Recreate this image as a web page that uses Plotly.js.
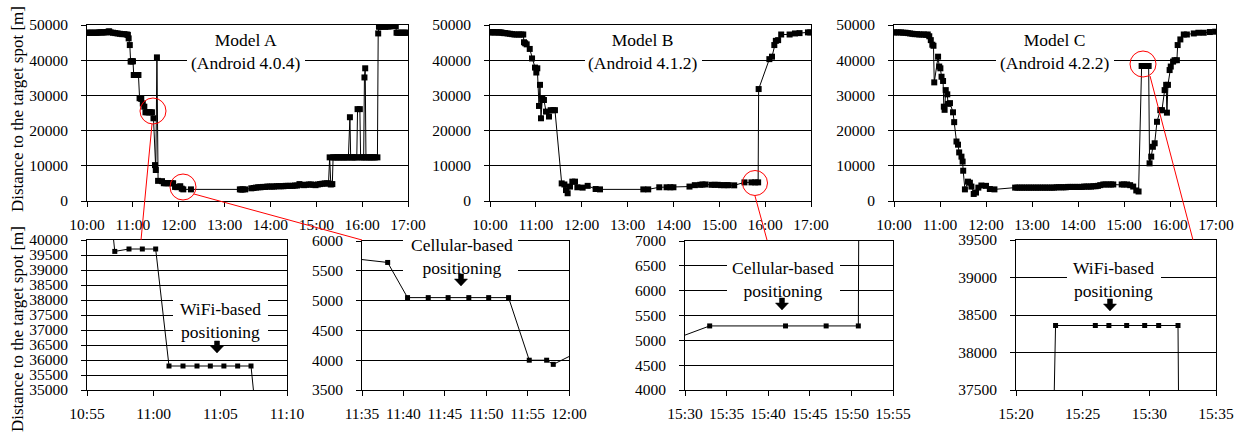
<!DOCTYPE html>
<html><head><meta charset="utf-8">
<script src="https://cdn.plot.ly/plotly-3.0.1.min.js"></script>
<style>html,body{margin:0;padding:0;background:#fff}#chart{width:1243px;height:432px}</style>
</head><body><div id="chart"></div>
<script>
// ---------------- DATA ----------------
const modelA_time = [
 "10:00","10:02","10:04","10:06","10:08","10:10","10:12","10:14","10:16","10:18",
 "10:20","10:22","10:24","10:26","10:28","10:29","10:31","10:34","10:37","10:40",
 "10:43","10:46","10:49","10:52","10:53:30","10:54:30","10:56","10:57:05","10:58:09","10:59:09",
 "11:00:09","11:01:09","11:02:12","11:03:15","11:04:15","11:05:16","11:06:18","11:07:18","11:08:48","11:11",
 "11:13","11:15","11:16:30","11:19","11:21","11:23","11:25","11:27","11:29","11:30",
 "11:31:30","11:33","11:38:06","11:40:30","11:43:00","11:45:24","11:47:54","11:50:18","11:52:42","11:55:12",
 "11:57:18","11:58:06","12:02","12:04","12:06","12:16","13:20","13:22","13:24","13:27",
 "13:35","13:38","13:41","13:44","13:47","13:50","13:53","13:56","13:59","14:02",
 "14:05","14:08","14:11","14:14","14:17","14:20","14:23","14:26","14:29","14:32",
 "14:35","14:38","14:41","14:44","14:47","14:50","14:53","14:56","14:59","15:02",
 "15:05","15:08","15:11","15:14","15:16","15:17:30","15:19","15:21","15:22","15:24",
 "15:26","15:28","15:30","15:32","15:34","15:36","15:38","15:40","15:42","15:44",
 "15:45","15:47","15:49","15:51","15:53","15:54","15:57","15:58","16:00","16:02",
 "16:03","16:04","16:05","16:07","16:09","16:11","16:13","16:15","16:17","16:20",
 "16:21","16:22","16:24","16:26","16:28","16:30","16:32","16:34","16:36","16:38",
 "16:40","16:42","16:44","16:45","16:47","16:49","16:51","16:53","16:55","16:57",
 "16:59"];
const modelA_dist = [
 47800,47800,47800,47800,47800,47800,47800,47800,47900,47900,
 47900,47900,47900,48000,48100,48200,47900,47800,47700,47600,
 47500,47400,47400,47300,47200,46200,44300,39620,39700,39700,
 39700,35800,35800,35800,35800,35800,35800,35800,29200,29000,
 27700,26800,25200,25200,25200,25200,25200,23500,10200,8800,
 40800,5720,5640,5050,5050,5050,5050,5050,5050,4000,
 4000,3930,4200,3500,3300,3300,3300,3250,3300,3300,
 3600,3700,3800,3900,3900,4000,4000,4100,4100,4100,
 4100,4200,4200,4200,4200,4300,4300,4300,4300,4400,
 4400,4800,4600,4500,4600,4700,4700,4600,4500,4700,
 4800,4900,5000,5000,5000,12400,4700,4800,12400,12400,
 12400,12400,12400,12400,12400,12400,12400,12400,12400,23800,
 12400,12400,12400,12400,12400,26100,26100,12400,12400,12400,
 35100,37700,12400,12400,12400,12400,12400,12400,12400,12400,
 47600,49500,49500,49600,49600,49500,49600,49600,49600,49700,
 49700,49700,49700,47800,47800,47800,47800,47800,47800,47800,
 47800];

const modelB_time = [
 "10:00","10:02","10:04","10:06","10:08","10:10","10:12","10:14","10:16","10:18",
 "10:20","10:23","10:26","10:29","10:32","10:35","10:38","10:41","10:43:30","10:44:30",
 "10:46","10:48","10:52","10:55","10:58:54","11:00:36","11:01:54","11:04:06","11:05:24","11:06:42",
 "11:08:30","11:10:36","11:13:18","11:17:12","11:19:24","11:22:54","11:25:00","11:33:48","11:37:18","11:39:24",
 "11:41:36","11:44:42","11:47:42","11:51:12","11:54:18","12:01:12","12:07:48","12:18:12","12:23:54","13:20:36",
 "13:27:00","13:41:30","13:51","13:56","14:00","14:21","14:28","14:35","14:38","14:42",
 "14:50","14:54","14:58","15:02","15:06","15:10","15:12","15:19:30","15:32:58","15:42:05",
 "15:46:58","15:50:50","15:51:30","16:05:30","16:09","16:12","16:14","16:17","16:21","16:32",
 "16:39","16:45","16:56","16:59"];
const modelB_dist = [
 47900,47900,48000,47900,47900,47900,47900,47900,47800,47700,
 47700,47600,47500,47400,47300,47300,47300,47300,47300,45100,
 44800,44500,43200,40500,37900,36500,37700,27000,33000,23500,
 29000,28700,25400,24000,25800,25800,25800,5000,4700,3100,
 2200,4100,5500,5500,3900,3800,4300,3400,3300,3300,
 3300,3900,3900,3900,3900,4100,4500,4600,4700,4700,
 4600,4600,4600,4500,4500,4500,4500,4450,5290,5290,
 5290,5290,31800,40300,41000,44300,45500,45700,47300,47300,
 47600,47700,47900,47900];

const modelC_time = [
 "10:00","10:03","10:06","10:09","10:12","10:15","10:18","10:21","10:24","10:27",
 "10:30","10:33","10:36","10:39","10:42","10:44","10:46","10:48","10:50","10:51:30",
 "10:52:30","10:57:30","10:59","11:00:30","11:02","11:04","11:05","11:06","11:07:30","11:09:30",
 "11:10:30","11:13","11:17","11:18:30","11:21:30","11:23:30","11:25","11:28","11:29:30","11:30:15",
 "11:32:30","11:36:30","11:39","11:41","11:44","11:47","11:50","11:54","12:00","12:05",
 "12:11","12:38","12:41","12:44","12:47","12:50","12:53","12:56","12:59","13:02",
 "13:05","13:08","13:11","13:14","13:17","13:20","13:23","13:26","13:29","13:32",
 "13:35","13:38","13:41","13:44","13:47","13:50","13:53","13:56","13:59","14:02",
 "14:05","14:08","14:11","14:14","14:17","14:20","14:23","14:26","14:29","14:33",
 "14:36","14:40","14:43","14:46","14:57","15:00","15:04","15:08","15:12","15:16",
 "15:19","15:22:58","15:25:57","15:26:58","15:28:18","15:29:39","15:30:42","15:32:09","15:33:20","15:35:30",
 "15:37:40","15:40","15:43","15:47:20","15:49:30","15:53","15:55","15:56","15:57:20","15:59:30",
 "16:01","16:04","16:06","16:09","16:10","16:13:30","16:18","16:22","16:31","16:37",
 "16:44","16:52","16:59"];
const modelC_dist = [
 47900,47900,47900,47900,47800,47800,47700,47600,47500,47400,
 47400,47300,47300,47300,47200,47300,46800,45700,44400,44100,
 33700,41000,38200,37700,35300,34100,26800,25900,31500,30300,
 27600,27800,25200,22400,16900,16000,13800,12600,11200,8600,
 3300,5500,5200,4100,2000,2400,3800,4400,4300,3400,
 3300,3800,3800,3800,3800,3800,3800,3800,3800,3800,
 3800,3800,3800,3800,3800,3800,3800,3800,3800,3900,
 3900,3900,3900,3900,4000,4000,4000,4000,4000,4000,
 4000,4100,4100,4100,4100,4200,4200,4300,4500,4700,
 4700,4700,4700,4700,4700,4700,4700,4500,4100,3000,
 2700,38360,38360,38360,38360,38360,38360,38360,10700,12600,
 15400,16400,22500,25800,25800,31500,33000,25100,33000,37200,
 38200,39600,40000,40000,44300,45900,47300,47300,47600,47800,
 47800,48000,48100];

const panelTitles = ["Model A<br>(Android 4.0.4)", "Model B<br>(Android 4.1.2)", "Model C<br>(Android 4.2.2)"];
const detailNotes = ["WiFi-based<br>positioning", "Cellular-based<br>positioning", "Cellular-based<br>positioning", "WiFi-based<br>positioning"];
const yTitle = "Distance to the target spot [m]";

// ---------------- LAYOUT HELPERS ----------------
const W = 1243, H = 432;
const DAY = "2000-01-01 ";
const FONT = "Liberation Serif, Times New Roman, serif";
const TICK = 15.5, TXT = 17.5;
const px = x => x / W, py = y => 1 - y / H;
const T = arr => arr.map(t => DAY + (t.length === 5 ? t + ":00" : t));

function xax(x0, x1, r0, r1, dtMin, anchor) {
  return {domain: [px(x0), px(x1)], anchor: anchor, type: "date",
    range: [DAY + r0 + ":00", DAY + r1 + ":00"], tickformat: "%H:%M",
    tick0: DAY + "00:00:00", dtick: dtMin * 60000,
    ticks: "outside", ticklen: 5, tickcolor: "#000", tickwidth: 1, ticklabelstandoff: 4,
    showline: true, mirror: true, linecolor: "#000", linewidth: 1,
    showgrid: false, zeroline: false, automargin: false, fixedrange: true,
    tickfont: {family: FONT, size: TICK, color: "#000"}};
}
function yax(y0, y1, r0, r1, dt, anchor) {
  return {domain: [py(y1), py(y0)], anchor: anchor, range: [r0, r1], dtick: dt, tick0: 0,
    ticks: "outside", ticklen: 5, tickcolor: "#000", tickwidth: 1, ticklabelstandoff: 10,
    showline: true, mirror: true, linecolor: "#000", linewidth: 1,
    showgrid: true, gridcolor: "#000", gridwidth: 1, zeroline: false,
    automargin: false, fixedrange: true, tickformat: "d",
    tickfont: {family: FONT, size: TICK, color: "#000"}};
}

function trace(t, d, xa, ya, size) {
  return {x: T(t), y: d, xaxis: xa, yaxis: ya, type: "scatter", mode: "lines+markers",
    line: {color: "#000", width: 1}, marker: {symbol: "square", size: size, color: "#000"},
    hoverinfo: "skip", showlegend: false};
}

const data = [
  trace(modelA_time, modelA_dist, "x", "y", 6),
  trace(modelB_time, modelB_dist, "x2", "y2", 6),
  trace(modelC_time, modelC_dist, "x3", "y3", 6),
  trace(modelA_time, modelA_dist, "x4", "y4", 5),
  trace(modelA_time, modelA_dist, "x5", "y5", 5),
  trace(modelB_time, modelB_dist, "x6", "y6", 5),
  trace(modelC_time, modelC_dist, "x7", "y7", 5)
];

const layout = {
  width: W, height: H, margin: {l: 0, r: 0, t: 0, b: 0},
  paper_bgcolor: "#fff", plot_bgcolor: "#fff", showlegend: false,
  font: {family: FONT, size: TICK, color: "#000"},
  xaxis:  xax(87, 408, "10:00", "17:00", 60, "y"),
  yaxis:  yax(25, 201, 0, 50000, 10000, "x"),
  xaxis2: xax(490, 811, "10:00", "17:00", 60, "y2"),
  yaxis2: yax(25, 201, 0, 50000, 10000, "x2"),
  xaxis3: xax(894, 1216, "10:00", "17:00", 60, "y3"),
  yaxis3: yax(25, 201, 0, 50000, 10000, "x3"),
  xaxis4: xax(87, 287, "10:55", "11:10", 5, "y4"),
  yaxis4: yax(240, 390, 35000, 40000, 500, "x4"),
  xaxis5: xax(362, 569, "11:35", "12:00", 5, "y5"),
  yaxis5: yax(241, 390, 3500, 6000, 500, "x5"),
  xaxis6: xax(685, 893, "15:30", "15:55", 5, "y6"),
  yaxis6: yax(241, 390, 4000, 7000, 500, "x6"),
  xaxis7: xax(1016, 1216, "15:20", "15:35", 5, "y7"),
  yaxis7: yax(240, 390, 37500, 39500, 500, "x7"),
  shapes: [], annotations: []
};

// white boxes behind the in-plot notes
function whiteBox(x0, y0, x1, y1) {
  layout.shapes.push({type: "rect", xref: "paper", yref: "paper", x0: px(x0), x1: px(x1), y0: py(y1), y1: py(y0),
    fillcolor: "#fff", line: {width: 0}, layer: "above"});
}
whiteBox(187, 29, 305, 73);
whiteBox(585, 29, 702, 73);
whiteBox(996, 29, 1114, 73);
whiteBox(173, 296, 268, 340);
whiteBox(403, 236, 518, 273);
whiteBox(727, 252, 840, 297);
whiteBox(1067, 255, 1161, 297);

// block arrows
function arrow(cx, ty) {
  const p = [[cx-2.5,ty],[cx+2.5,ty],[cx+2.5,ty+5],[cx+6.5,ty+5],[cx,ty+12],[cx-6.5,ty+5],[cx-2.5,ty+5]];
  const path = "M" + p.map(q => px(q[0]).toFixed(5) + "," + py(q[1]).toFixed(5)).join(" L") + " Z";
  layout.shapes.push({type: "path", xref: "paper", yref: "paper", path: path, fillcolor: "#000", line: {color: "#000", width: 0.5}, layer: "above"});
}
arrow(217, 341);
arrow(461, 274);
arrow(782, 298);
arrow(1110, 299);

// red circles and connector lines
function circle(cx, cy, r) {
  layout.shapes.push({type: "circle", xref: "paper", yref: "paper", x0: px(cx-r), x1: px(cx+r), y0: py(cy+r), y1: py(cy-r),
    line: {color: "#ff0000", width: 1}, layer: "above"});
}
function seg(x0, y0, x1, y1) {
  layout.shapes.push({type: "line", xref: "paper", yref: "paper", x0: px(x0), x1: px(x1), y0: py(y0), y1: py(y1),
    line: {color: "#ff0000", width: 1}, layer: "above"});
}
circle(153, 111, 13); seg(152, 124, 141, 240);
circle(183, 187, 13); seg(194, 194, 362, 240);
circle(755, 183, 12.5); seg(755, 196, 767, 240);
circle(1143, 64, 13); seg(1150, 76, 1193, 240);

// text
function note(text, cx, cy) {
  layout.annotations.push({text: text, xref: "paper", yref: "paper", x: px(cx), y: py(cy),
    xanchor: "center", yanchor: "middle", showarrow: false, font: {family: FONT, size: TXT, color: "#000"}});
}
note(panelTitles[0], 246, 51);
note(panelTitles[1], 643, 51);
note(panelTitles[2], 1055, 51);
note(detailNotes[0], 220, 320);
note(detailNotes[1], 462, 256);
note(detailNotes[2], 783, 279);
note(detailNotes[3], 1113, 279);

[109, 329].forEach(cy => layout.annotations.push({text: yTitle, textangle: -90, xref: "paper", yref: "paper",
  x: px(17), y: py(cy), xanchor: "center", yanchor: "middle", showarrow: false,
  font: {family: FONT, size: 17, color: "#000"}}));

Plotly.newPlot("chart", data, layout, {staticPlot: true, displayModeBar: false});
</script>
</body></html>
